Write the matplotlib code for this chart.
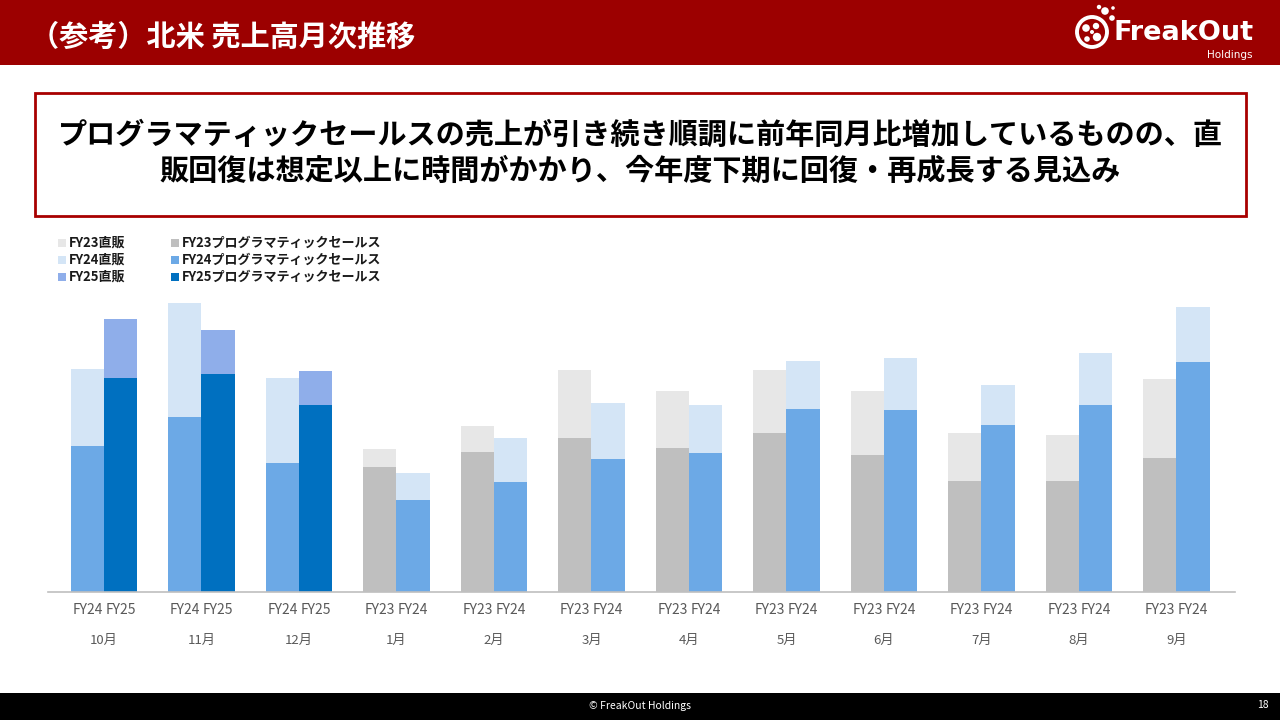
import numpy as np
import matplotlib
matplotlib.use("Agg")
import matplotlib.pyplot as plt
from matplotlib.patches import Rectangle, Circle

plt.rcParams['font.family'] = ['Noto Sans CJK JP', 'DejaVu Sans']

# ---------------- data (arbitrary units) ----------------
months = ['10月', '11月', '12月', '1月', '2月', '3月', '4月', '5月', '6月', '7月', '8月', '9月']
left_labels = ['FY24', 'FY24', 'FY24'] + ['FY23'] * 9
right_labels = ['FY25', 'FY25', 'FY25'] + ['FY24'] * 9

nan = np.nan
fy23_prog = [nan, nan, nan, 125, 140, 154, 144, 159, 137, 111, 111, 134]
fy23_direct = [nan, nan, nan, 18, 26, 68, 57, 63, 64, 48, 46, 79]
fy24_prog = [146, 175, 129, 92, 110, 133, 139, 183, 182, 167, 187, 230]
fy24_direct = [77, 114, 85, 27, 44, 56, 48, 48, 52, 40, 52, 55]
fy25_prog = [214, 218, 187, nan, nan, nan, nan, nan, nan, nan, nan, nan]
fy25_direct = [59, 44, 34, nan, nan, nan, nan, nan, nan, nan, nan, nan]

legend_labels = ['FY23直販', 'FY24直販', 'FY25直販',
                 'FY23プログラマティックセールス', 'FY24プログラマティックセールス',
                 'FY25プログラマティックセールス']

c23d, c23p = '#E7E7E7', '#BFBFBF'
c24d, c24p = '#D4E5F6', '#6CA9E6'
c25d, c25p = '#8FAEEA', '#0070C0'

W, H = 1280, 720
fig = plt.figure(figsize=(12.8, 7.2), dpi=100)

# background / decoration axes in pixel coordinates
bg = fig.add_axes([0, 0, 1, 1], zorder=0)
bg.set_xlim(0, W)
bg.set_ylim(H, 0)
bg.axis('off')

# header band
bg.add_patch(Rectangle((0, 0), W, 65, color='#9C0000', lw=0))
bg.text(30, 37, '（参考）北米 売上高月次推移', color='white', fontsize=21,
        fontweight='bold', va='center', ha='left')

# logo
bg.add_patch(Circle((1092, 32), 15, facecolor='none', edgecolor='white', lw=2.8))
for (dx, dy, r) in [(-6, -4, 3.8), (4, -6, 3.2), (5, 5, 4.2), (-5, 7, 2.8), (0, 0, 2)]:
    bg.add_patch(Circle((1092 + dx, 32 + dy), r, color='white', lw=0))
for (dx, dy, r) in [(13, -21, 3.8), (20, -14, 2.8), (7, -25, 2.2), (21, -24, 1.8)]:
    bg.add_patch(Circle((1092 + dx, 32 + dy), r, color='white', lw=0))
bg.text(1114, 33, 'FreakOut', color='white', fontsize=19.5, fontweight='bold',
        va='center', ha='left', family=['DejaVu Sans'])
bg.text(1252, 55, 'Holdings', color='white', fontsize=7.5, va='center', ha='right',
        family=['DejaVu Sans'])

# message box
bg.add_patch(Rectangle((35, 93), 1211, 123, facecolor='white', edgecolor='#A80000', lw=2))
bg.text(640, 135, 'プログラマティックセールスの売上が引き続き順調に前年同月比増加しているものの、直',
        fontsize=21, fontweight='bold', ha='center', va='center', color='black')
bg.text(640, 171, '販回復は想定以上に時間がかかり、今年度下期に回復・再成長する見込み',
        fontsize=21, fontweight='bold', ha='center', va='center', color='black')

# legend
leg_colors = [c23d, c24d, c25d, c23p, c24p, c25p]
for k, (lab, col) in enumerate(zip(legend_labels, leg_colors)):
    col_i, row_i = divmod(k, 3)
    x0 = 58 if col_i == 0 else 171
    y0 = 243 + 17 * row_i
    bg.add_patch(Rectangle((x0, y0 - 4), 8, 8, color=col, lw=0))
    bg.text(x0 + 11, y0, lab, fontsize=9.4, fontweight='bold', va='center', ha='left',
            color='#1a1a1a')

# footer
bg.add_patch(Rectangle((0, 693), W, 27, color='black', lw=0))
bg.text(640, 706, '© FreakOut Holdings', color='white', fontsize=7.5, ha='center', va='center')
bg.text(1263, 705, '18', color='white', fontsize=7.5, ha='center', va='center')

# ---------------- chart ----------------
ax = fig.add_axes([48 / W, (H - 592) / H, (1235 - 48) / W, 292 / H], zorder=1)
ax.set_facecolor('none')
x = np.arange(len(months))
bw = 0.34

def stack(xpos, prog, direct, cp, cd):
    prog = np.array(prog, dtype=float)
    direct = np.array(direct, dtype=float)
    ax.bar(xpos, prog, width=bw, color=cp, lw=0)
    ax.bar(xpos, direct, width=bw, bottom=prog, color=cd, lw=0)

# FY23: left bar in months 1-9
stack(x - bw / 2, fy23_prog, fy23_direct, c23p, c23d)
# FY24: left in Oct-Dec, right in Jan-Sep
pos24 = np.where(np.arange(len(months)) < 3, x - bw / 2, x + bw / 2)
stack(pos24, fy24_prog, fy24_direct, c24p, c24d)
# FY25: right in Oct-Dec
stack(x + bw / 2, fy25_prog, fy25_direct, c25p, c25d)

ax.set_xlim(-0.574, 11.6)
ax.set_ylim(0, 292)
for s in ['top', 'left', 'right']:
    ax.spines[s].set_visible(False)
ax.spines['bottom'].set_color('#BFBFBF')
ax.spines['bottom'].set_linewidth(1.2)
ax.set_yticks([])
ax.set_xticks([])

for i in range(len(months)):
    ax.text(x[i] - bw / 2, -18, left_labels[i], fontsize=10, color='#595959',
            ha='center', va='center', clip_on=False)
    ax.text(x[i] + bw / 2, -18, right_labels[i], fontsize=10, color='#595959',
            ha='center', va='center', clip_on=False)
    ax.text(x[i], -48, months[i], fontsize=9.5, color='#595959',
            ha='center', va='center', clip_on=False)

fig.savefig('out.png', dpi=100)
